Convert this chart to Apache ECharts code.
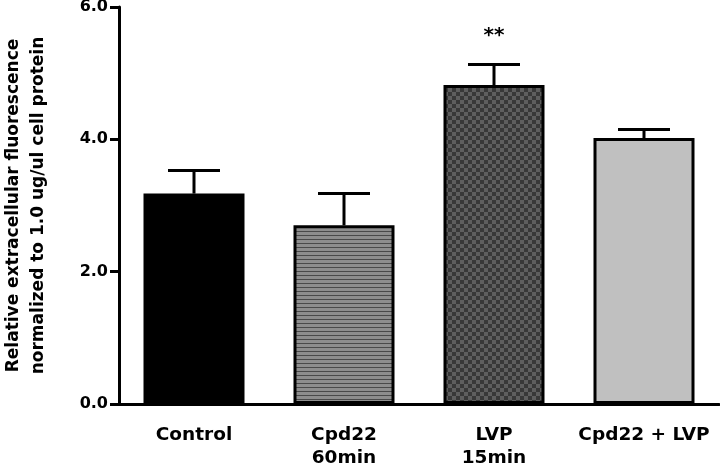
<!DOCTYPE html>
<html>
<head>
<meta charset="utf-8">
<script src="https://cdn.jsdelivr.net/npm/echarts@6/dist/echarts.min.js"></script>
<style>
html,body{margin:0;padding:0;background:#fff;}
#chart{width:720px;height:472px;}
</style>
</head>
<body>
<div id="chart"></div>
<script>
var categories = ['Control', 'Cpd22\n60min', 'LVP\n15min', 'Cpd22 + LVP'];
var means = [3.18, 2.70, 4.82, 4.02];
var errors = [0.35, 0.48, 0.31, 0.13];
var significance = ['', '', '**', ''];
var yTicks = [0, 2, 4, 6];

function stripePattern() {
  var c = document.createElement('canvas');
  c.width = 4; c.height = 4;
  var ctx = c.getContext('2d');
  ctx.fillStyle = '#8e8e8e';
  ctx.fillRect(0, 0, 4, 4);
  ctx.fillStyle = '#4a4a4a';
  ctx.fillRect(0, 3, 4, 1);
  return c;
}
function checkerPattern() {
  var c = document.createElement('canvas');
  c.width = 8; c.height = 8;
  var ctx = c.getContext('2d');
  ctx.fillStyle = '#383838';
  ctx.fillRect(0, 0, 8, 8);
  ctx.fillStyle = '#5e5e5e';
  ctx.fillRect(0, 0, 4, 4);
  ctx.fillRect(4, 4, 4, 4);
  return c;
}
var fills = [
  '#000000',
  {image: stripePattern(), repeat: 'repeat'},
  {image: checkerPattern(), repeat: 'repeat'},
  '#c0c0c0'
];

var font = '"DejaVu Sans", sans-serif';
var chart = echarts.init(document.getElementById('chart'), null, {renderer: 'canvas'});
chart.setOption({
  animation: false,
  grid: {left: 119, right: 1, top: 7, bottom: 68, containLabel: false, outerBoundsMode: 'none'},
  xAxis: {
    type: 'category',
    data: categories,
    boundaryGap: true,
    axisLine: {lineStyle: {color: '#000', width: 3}},
    axisTick: {alignWithLabel: true, length: 8, lineStyle: {color: '#000', width: 3}},
    axisLabel: {color: '#000', fontFamily: font, fontWeight: 'bold', fontSize: 18.5, lineHeight: 23, margin: 20, interval: 0}
  },
  yAxis: {
    type: 'value',
    min: yTicks[0], max: yTicks[yTicks.length - 1], interval: 2,
    name: 'Relative extracellular fluorescence\nnormalized to 1.0 ug/ul cell protein',
    nameLocation: 'middle',
    nameGap: 68,
    nameTextStyle: {color: '#000', fontFamily: font, fontWeight: 'bold', fontSize: 17, lineHeight: 25},
    axisLine: {show: true, lineStyle: {color: '#000', width: 3}},
    axisTick: {show: true, length: 9, lineStyle: {color: '#000', width: 3}},
    axisLabel: {color: '#000', fontFamily: font, fontWeight: 'bold', fontSize: 16, margin: 11,
      formatter: function (v) { return v.toFixed(1); }},
    splitLine: {show: false}
  },
  series: [
    {
      type: 'bar',
      barWidth: 101,
      data: means.map(function (v, i) {
        return {value: v, itemStyle: {color: fills[i], borderColor: '#000', borderWidth: 3}};
      })
    },
    {
      type: 'custom',
      data: means.map(function (v, i) { return [i, v, v + errors[i]]; }),
      z: 1,
      renderItem: function (params, api) {
        var i = api.value(0);
        var lo = api.coord([i, api.value(1)]);
        var hi = api.coord([i, api.value(2)]);
        var half = 26;
        var children = [
          {type: 'line', shape: {x1: lo[0], y1: lo[1], x2: hi[0], y2: hi[1]}, style: {stroke: '#000', lineWidth: 3}},
          {type: 'line', shape: {x1: hi[0] - half, y1: hi[1], x2: hi[0] + half, y2: hi[1]}, style: {stroke: '#000', lineWidth: 3}}
        ];
        if (significance[i]) {
          children.push({type: 'text', style: {text: significance[i], x: hi[0], y: hi[1] - 29,
            align: 'center', verticalAlign: 'middle', fill: '#000', font: 'bold 20px ' + font}});
        }
        return {type: 'group', children: children};
      }
    }
  ]
});
</script>
</body>
</html>
